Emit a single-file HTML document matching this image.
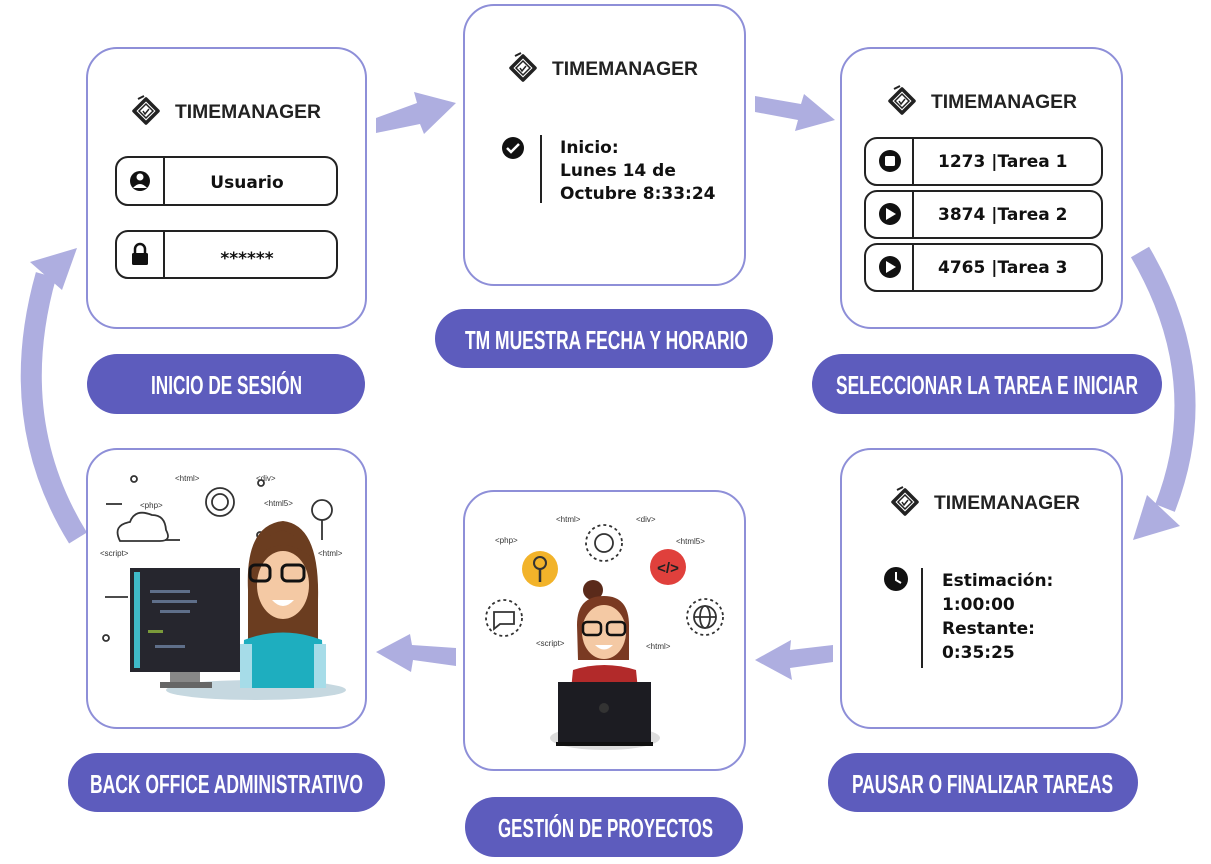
<!DOCTYPE html>
<html><head><meta charset="utf-8"><style>
html,body{margin:0;padding:0;background:#fff;}
svg{display:block;}
.pill{font-family:"Liberation Sans",sans-serif;font-weight:bold;fill:#fff;font-size:26px;}
.logo{font-family:"Liberation Sans",sans-serif;font-weight:bold;font-size:19px;fill:#222;}
.fld{font-family:"DejaVu Sans","Liberation Sans",sans-serif;font-weight:bold;font-size:17px;fill:#111;}
.tag{font-family:"Liberation Sans",sans-serif;font-size:8px;fill:#333;}
</style></head><body>
<svg width="1211" height="864" viewBox="0 0 1211 864" xmlns="http://www.w3.org/2000/svg">
<defs>
<g id="lg">
  <path d="M0 0 L12 -12 L24 0 L12 12 Z" fill="none" stroke="#222" stroke-width="3.5" stroke-linejoin="round"/>
  <path d="M5 0 L12 -7 L19 0 L12 7 Z" fill="none" stroke="#222" stroke-width="1.5"/>
  <path d="M9 0 L11 3 L15 -2" fill="none" stroke="#222" stroke-width="1.5"/>
  <path d="M4 -12 L10 -15" stroke="#222" stroke-width="2"/>
</g>
</defs>
<!-- arrows -->
<g fill="#aeaee0" stroke="none">
  <path d="M376 118 L376 133 L420 124 L424 134 L456 103 L414 92 L417 103 Z"/>
  <path d="M755 96 L755 112 L798 120 L795 131 L835 120 L804 94 L801 104 Z"/>
  <path d="M833 645 L833 662 L790 668 L792 680 L755 660 L791 640 L790 650 Z"/>
  <path d="M456 648 L456 666 L413 660 L411 672 L376 652 L410 634 L412 645 Z"/>
</g>
<path d="M78 538 Q5 420 46 275" fill="none" stroke="#aeaee0" stroke-width="21"/>
<polygon points="30,262 77,248 62,290" fill="#aeaee0"/>
<path d="M1140 252 Q1215 380 1165 508" fill="none" stroke="#aeaee0" stroke-width="21"/>
<polygon points="1133,540 1180,526 1147,495" fill="#aeaee0"/>

<!-- boxes -->
<g fill="#fff" stroke="#8e8fd8" stroke-width="2">
  <rect x="87" y="48" width="279" height="280" rx="30"/>
  <rect x="464" y="5" width="281" height="280" rx="30"/>
  <rect x="841" y="48" width="281" height="280" rx="30"/>
  <rect x="841" y="449" width="281" height="279" rx="30"/>
  <rect x="464" y="491" width="281" height="279" rx="30"/>
  <rect x="87" y="449" width="279" height="279" rx="30"/>
</g>

<!-- pills -->
<g fill="#5d5cbd">
  <rect x="87" y="354" width="278" height="60" rx="30"/>
  <rect x="435" y="309" width="338" height="59" rx="29.5"/>
  <rect x="812" y="354" width="350" height="60" rx="30"/>
  <rect x="828" y="753" width="310" height="59" rx="29.5"/>
  <rect x="465" y="797" width="278" height="60" rx="30"/>
  <rect x="68" y="753" width="317" height="59" rx="29.5"/>
</g>
<g class="pill">
  <text x="151" y="394" textLength="151" lengthAdjust="spacingAndGlyphs">INICIO DE SESIÓN</text>
  <text x="465" y="349" textLength="283" lengthAdjust="spacingAndGlyphs">TM MUESTRA FECHA Y HORARIO</text>
  <text x="836" y="394" textLength="302" lengthAdjust="spacingAndGlyphs">SELECCIONAR LA TAREA E INICIAR</text>
  <text x="852" y="793" textLength="261" lengthAdjust="spacingAndGlyphs">PAUSAR O FINALIZAR TAREAS</text>
  <text x="498" y="837" textLength="215" lengthAdjust="spacingAndGlyphs">GESTIÓN DE PROYECTOS</text>
  <text x="90" y="793" textLength="273" lengthAdjust="spacingAndGlyphs">BACK OFFICE ADMINISTRATIVO</text>
</g>

<!-- logos -->
<use href="#lg" x="134" y="111"/><text class="logo" x="175" y="118" textLength="146" lengthAdjust="spacingAndGlyphs">TIMEMANAGER</text>
<use href="#lg" x="511" y="68"/><text class="logo" x="552" y="75" textLength="146" lengthAdjust="spacingAndGlyphs">TIMEMANAGER</text>
<use href="#lg" x="890" y="101"/><text class="logo" x="931" y="108" textLength="146" lengthAdjust="spacingAndGlyphs">TIMEMANAGER</text>
<use href="#lg" x="893" y="502"/><text class="logo" x="934" y="509" textLength="146" lengthAdjust="spacingAndGlyphs">TIMEMANAGER</text>

<!-- login fields -->
<g fill="none" stroke="#222" stroke-width="2">
  <rect x="116" y="157" width="221" height="48" rx="12"/>
  <line x1="164" y1="157" x2="164" y2="205"/>
  <rect x="116" y="231" width="221" height="47" rx="12"/>
  <line x1="164" y1="231" x2="164" y2="278"/>
</g>
<circle cx="140" cy="181" r="10" fill="#111"/>
<circle cx="140" cy="177" r="3.5" fill="#fff"/><path d="M133 188 Q140 180 147 188" fill="#fff"/>
<rect x="132" y="253" width="16" height="12" rx="1.5" fill="#111"/>
<path d="M135 254 V249 A5 5 0 0 1 145 249 V254" fill="none" stroke="#111" stroke-width="2.5"/>
<text class="fld" x="247" y="188" text-anchor="middle">Usuario</text>
<text class="fld" x="247" y="264" text-anchor="middle">******</text>

<!-- box2 -->
<circle cx="513" cy="148" r="11" fill="#111"/>
<path d="M507 148 L511 152 L519 144" fill="none" stroke="#fff" stroke-width="2.5"/>
<line x1="541" y1="135" x2="541" y2="203" stroke="#222" stroke-width="2"/>
<g class="fld"><text x="560" y="153">Inicio:</text><text x="560" y="176">Lunes 14 de</text><text x="560" y="199">Octubre 8:33:24</text></g>

<!-- box3 rows -->
<g fill="none" stroke="#222" stroke-width="2">
  <rect x="865" y="138" width="237" height="47" rx="12"/><line x1="913" y1="138" x2="913" y2="185"/>
  <rect x="865" y="191" width="237" height="47" rx="12"/><line x1="913" y1="191" x2="913" y2="238"/>
  <rect x="865" y="244" width="237" height="47" rx="12"/><line x1="913" y1="244" x2="913" y2="291"/>
</g>
<circle cx="890" cy="161" r="11" fill="#111"/><rect x="885" y="156" width="10" height="10" rx="1.5" fill="#fff"/>
<circle cx="890" cy="214" r="11" fill="#111"/><polygon points="886,208 886,220 896,214" fill="#fff"/>
<circle cx="890" cy="267" r="11" fill="#111"/><polygon points="886,261 886,273 896,267" fill="#fff"/>
<g class="fld"><text x="938" y="167">1273  |Tarea 1</text><text x="938" y="220">3874  |Tarea 2</text><text x="938" y="273">4765  |Tarea 3</text></g>

<!-- box4 -->
<circle cx="896" cy="579" r="12" fill="#111"/>
<path d="M896 572 V580 L901 583" fill="none" stroke="#fff" stroke-width="2"/>
<line x1="922" y1="568" x2="922" y2="668" stroke="#222" stroke-width="2"/>
<g class="fld"><text x="942" y="586">Estimación:</text><text x="942" y="610">1:00:00</text><text x="942" y="634">Restante:</text><text x="942" y="658">0:35:25</text></g>

<!-- box6 illustration -->
<g class="tag"><text x="175" y="481">&lt;html&gt;</text><text x="256" y="481">&lt;div&gt;</text><text x="140" y="508">&lt;php&gt;</text><text x="264" y="506">&lt;html5&gt;</text><text x="100" y="556">&lt;script&gt;</text><text x="318" y="556">&lt;html&gt;</text></g>
<g fill="none" stroke="#333" stroke-width="1.8">
  <circle cx="134" cy="479" r="3"/><circle cx="260" cy="535" r="3"/><circle cx="261" cy="483" r="3"/><circle cx="106" cy="638" r="3"/><circle cx="283" cy="643" r="3"/>
  <circle cx="220" cy="502" r="14"/><circle cx="220" cy="502" r="8"/>
  <path d="M120 541 Q112 525 130 522 Q135 508 152 515 Q165 515 166 530 Q172 541 160 541 Z"/>
  <circle cx="322" cy="510" r="10"/><line x1="322" y1="520" x2="322" y2="540"/>
  <line x1="106" y1="504" x2="122" y2="504"/><line x1="105" y1="597" x2="128" y2="597"/><line x1="272" y1="597" x2="290" y2="597"/><line x1="165" y1="540" x2="180" y2="540"/>
</g>
<ellipse cx="256" cy="690" rx="90" ry="10" fill="#c6d8e0"/>
<rect x="130" y="568" width="110" height="104" fill="#26262e"/>
<rect x="134" y="572" width="6" height="96" fill="#3fb9c8"/>
<g fill="#5f6f8a"><rect x="150" y="590" width="40" height="3"/><rect x="152" y="600" width="45" height="3"/><rect x="160" y="610" width="30" height="3"/><rect x="148" y="630" width="15" height="3" fill="#7a9a3a"/><rect x="155" y="645" width="30" height="3"/></g>
<rect x="170" y="672" width="30" height="12" fill="#888"/><rect x="160" y="682" width="52" height="6" fill="#666"/>
<path d="M248 590 Q245 525 283 521 Q320 525 318 600 L318 640 L248 640 Z" fill="#6b3d20"/>
<ellipse cx="283" cy="585" rx="26" ry="34" fill="#f4c9a4"/>
<path d="M258 555 Q283 535 310 556 Q300 536 283 530 Q262 535 258 555Z" fill="#6b3d20"/>
<g fill="none" stroke="#111" stroke-width="3"><rect x="250" y="565" width="20" height="16" rx="5"/><rect x="282" y="565" width="22" height="16" rx="5"/></g>
<path d="M272 600 Q283 612 294 600 Z" fill="#fff"/>
<path d="M244 640 Q283 625 322 640 L324 688 L242 688 Z" fill="#1eaebf"/>
<rect x="240" y="644" width="12" height="44" fill="#a6dce8"/><rect x="314" y="644" width="12" height="44" fill="#a6dce8"/>

<!-- box5 illustration -->
<g class="tag"><text x="556" y="522">&lt;html&gt;</text><text x="636" y="522">&lt;div&gt;</text><text x="495" y="543">&lt;php&gt;</text><text x="676" y="544">&lt;html5&gt;</text><text x="536" y="646">&lt;script&gt;</text><text x="646" y="649">&lt;html&gt;</text></g>
<g fill="none" stroke="#333" stroke-width="1.8">
  <circle cx="604" cy="543" r="18" stroke-dasharray="3 3"/><circle cx="604" cy="543" r="9"/>
  <circle cx="504" cy="618" r="18" stroke-dasharray="3 3"/><path d="M494 612 h20 v12 h-14 l-6 5 Z"/>
  <circle cx="705" cy="617" r="18" stroke-dasharray="3 3"/><circle cx="705" cy="617" r="11"/><line x1="694" y1="617" x2="716" y2="617"/><ellipse cx="705" cy="617" rx="5" ry="11"/>
</g>
<circle cx="540" cy="569" r="18" fill="#f2b32a"/><circle cx="540" cy="563" r="6" fill="none" stroke="#333" stroke-width="2"/><line x1="540" y1="569" x2="540" y2="582" stroke="#333" stroke-width="2.5"/>
<circle cx="668" cy="567" r="18" fill="#e0403c"/><text x="668" y="573" text-anchor="middle" font-family="Liberation Sans" font-weight="bold" font-size="15" fill="#222">&lt;/&gt;</text>
<ellipse cx="605" cy="738" rx="55" ry="12" fill="#ddd"/>
<circle cx="593" cy="590" r="10" fill="#5a2a1a"/>
<path d="M577 625 Q577 596 604 596 Q630 596 629 628 L629 660 L578 660 Z" fill="#7a3a22"/>
<ellipse cx="604" cy="632" rx="22" ry="27" fill="#f4c9a4"/>
<g fill="none" stroke="#111" stroke-width="2.5"><rect x="583" y="622" width="18" height="13" rx="4"/><rect x="607" y="622" width="18" height="13" rx="4"/></g>
<path d="M595 645 Q604 654 613 645Z" fill="#fff"/>
<path d="M573 670 Q604 660 636 670 L638 690 L571 690 Z" fill="#b22a2a"/>
<rect x="558" y="682" width="93" height="62" fill="#1c1c22"/><circle cx="604" cy="708" r="5" fill="#333"/>
<rect x="556" y="742" width="97" height="4" fill="#111"/>
</svg>
</body></html>
